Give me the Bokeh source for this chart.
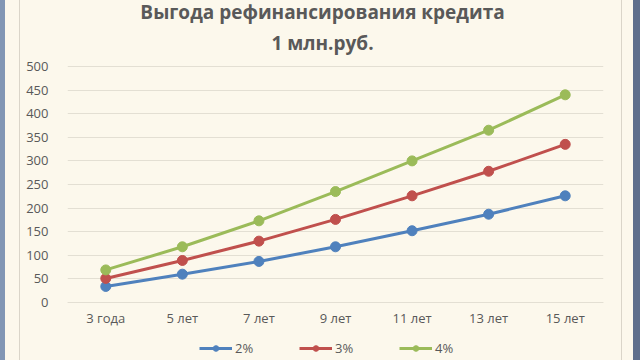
from bokeh.plotting import figure
from bokeh.models import FactorRange, Range1d, FixedTicker, Legend, LegendItem, Label, CategoricalAxis
from bokeh.embed import file_html
from bokeh.resources import INLINE

categories = ["3 года", "5 лет", "7 лет", "9 лет", "11 лет", "13 лет", "15 лет"]
s2 = [34, 60, 87, 118, 152, 187, 226]
s3 = [51, 89, 130, 176, 226, 278, 335]
s4 = [69, 118, 173, 235, 300, 365, 440]
series_names = ["2%", "3%", "4%"]
colors = ["#4F81BD", "#C0504D", "#9BBB59"]
y_ticks = [0, 50, 100, 150, 200, 250, 300, 350, 400, 450, 500]
title_line1 = "Выгода рефинансирования кредита"
title_line2 = "1 млн.руб."

FONT = "Open Sans"
TXT = "#595959"
BG = "#FCF8EC"
GRID = "#E3DFD3"

# frame covers full height; value axis 0..500 spans 236 px (66..302)
p = figure(width=640, height=360, output_backend="svg", toolbar_location=None,
           x_range=FactorRange(*categories, range_padding=0),
           y_range=Range1d(-122.9, 639.8),
           x_axis_location=None,
           min_border_left=67, min_border_right=37, min_border_top=0, min_border_bottom=0)
p.background_fill_color = BG
p.border_fill_alpha = 0
p.outline_line_color = None
p.styles = {"background": "linear-gradient(to right, #8296B4 0px, #8296B4 5px, #FCF8EC 5px, "
                          "#FCF8EC 19px, #DAD5C9 19px, #DAD5C9 20px, #FCF8EC 20px, #FCF8EC 621px, "
                          "#DAD5C9 621px, #DAD5C9 622px, #FCF8EC 622px, #FCF8EC 633px, "
                          "#5F6F8C 633px, #5F6F8C 640px)"}

p.xgrid.grid_line_color = None
p.ygrid.grid_line_color = GRID
p.ygrid.grid_line_width = 1

p.yaxis.ticker = FixedTicker(ticks=y_ticks)
p.yaxis.axis_line_color = None
p.yaxis.major_tick_line_color = None
p.yaxis.minor_tick_line_color = None
p.yaxis.major_label_standoff = 13
p.yaxis.major_label_text_font = FONT
p.yaxis.major_label_text_font_size = "13px"
p.yaxis.major_label_text_color = TXT

xax = CategoricalAxis(fixed_location=0)
xax.axis_line_color = GRID
xax.major_tick_line_color = None
xax.minor_tick_line_color = None
xax.major_label_standoff = 1
xax.major_label_text_font = FONT
xax.major_label_text_font_size = "13px"
xax.major_label_text_color = TXT
p.add_layout(xax, "below")

items = []
for vals, name, c in zip([s2, s3, s4], series_names, colors):
    l = p.line(categories, vals, line_color=c, line_width=3)
    s = p.scatter(categories, vals, size=10, fill_color=c, line_color=c)
    items.append(LegendItem(label=name, renderers=[l, s]))

leg = Legend(items=items, orientation="horizontal", location=(132, 3),
             padding=0, margin=0, spacing=44, glyph_width=33, glyph_height=14,
             label_height=14, label_standoff=3, border_line_alpha=0, background_fill_alpha=0,
             label_text_font=FONT, label_text_font_size="13px", label_text_color=TXT)
p.add_layout(leg, "center")

p.add_layout(Label(x=255, y=349, x_units="screen", y_units="screen",
                   text=title_line1, text_align="center", text_baseline="alphabetic",
                   text_font=FONT, text_font_size="19px", text_font_style="bold", text_color=TXT))
p.add_layout(Label(x=255, y=318, x_units="screen", y_units="screen",
                   text=title_line2, text_align="center", text_baseline="alphabetic",
                   text_font=FONT, text_font_size="19px", text_font_style="bold", text_color=TXT))

open("out.html", "w").write(file_html(p, INLINE))
